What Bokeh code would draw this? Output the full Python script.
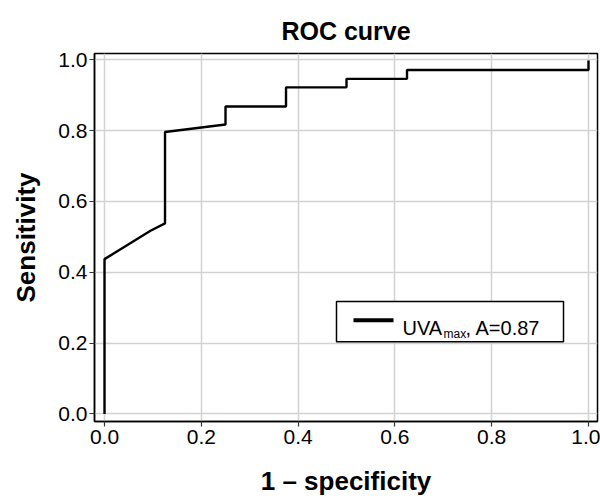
from bokeh.plotting import figure
from bokeh.models import Range1d, Label, FixedTicker, NumeralTickFormatter
from bokeh.embed import file_html
from bokeh.resources import INLINE

# ROC data (1 - specificity, sensitivity)
fpr = [0.0, 0.0, 0.095, 0.125, 0.125, 0.25, 0.25, 0.375, 0.375, 0.5, 0.5, 0.625, 0.625, 1.0, 1.0]
tpr = [0.0, 0.437, 0.517, 0.538, 0.796, 0.817, 0.868, 0.868, 0.922, 0.922, 0.946, 0.946, 0.971, 0.971, 0.998]
tick_vals = [0.0, 0.2, 0.4, 0.6, 0.8, 1.0]
title_text = "ROC curve"
x_title = "1 \u2013 specificity"
y_title = "Sensitivity"
legend_main = "UVA"
legend_sub = "max"
legend_tail = ", A=0.87"

FONT = "Liberation Sans"
X0, X1 = -0.0207, 1.0186
Y0, Y1 = -0.0214, 1.0175
FL, FR, FT, FB = 94, 597, 53, 427  # frame edges in page px


def dx(px):
    return X0 + (px - FL) * (X1 - X0) / (FR - FL)


def dy(py):
    return Y0 + (FB - py) * (Y1 - Y0) / (FB - FT)


p = figure(width=600, height=498, output_backend="svg", toolbar_location=None,
           x_range=Range1d(X0, X1), y_range=Range1d(Y0, Y1),
           min_border_left=94, min_border_right=3, min_border_top=53, min_border_bottom=71,
           title=title_text)

p.title.text_font = FONT
p.title.text_font_size = "25px"
p.title.text_font_style = "bold"
p.title.align = "center"
p.title.text_color = "black"
p.title.standoff = 18

p.outline_line_color = "black"
p.outline_line_width = 1.5
p.outline_line_alpha = 1.0

for ax in (p.xaxis[0], p.yaxis[0]):
    ax.ticker = FixedTicker(ticks=tick_vals)
    ax.formatter = NumeralTickFormatter(format="0.0")
    ax.major_label_text_font = FONT
    ax.major_label_text_font_size = "21px"
    ax.major_label_text_color = "black"
    ax.axis_label_text_font = FONT
    ax.axis_label_text_font_size = "26px"
    ax.axis_label_text_font_style = "bold"
    ax.axis_label_text_color = "black"
    ax.axis_line_color = "black"
    ax.axis_line_width = 1.5
    ax.major_tick_line_color = "#333333"
    ax.major_tick_line_width = 1.2
    ax.major_tick_out = 5
    ax.major_tick_in = 0
    ax.minor_tick_line_color = None

p.xaxis.axis_label = x_title
p.yaxis.axis_label = y_title
p.xaxis.major_label_standoff = 3
p.yaxis.major_label_standoff = 2
p.xaxis.axis_label_standoff = 19
p.yaxis.axis_label_standoff = 14

p.xgrid.ticker = FixedTicker(ticks=tick_vals)
p.ygrid.ticker = FixedTicker(ticks=tick_vals)
p.grid.grid_line_color = "#d2d2d2"
p.grid.grid_line_width = 1.5

p.line(fpr, tpr, line_color="black", line_width=2.4)

# legend box (drawn manually so the subscript can be shown)
p.quad(left=[dx(336)], right=[dx(563)], top=[dy(305)], bottom=[dy(346)],
       fill_color="white", line_color="black", line_width=1.5)
p.segment(x0=[dx(353)], x1=[dx(393)], y0=[dy(324)], y1=[dy(324)],
          line_color="black", line_width=4)
p.add_layout(Label(x=dx(402), y=dy(332), text=legend_main, text_font=FONT,
                   text_font_size="20px", text_baseline="alphabetic", text_color="black"))
p.add_layout(Label(x=dx(443), y=dy(338), text=legend_sub, text_font=FONT,
                   text_font_size="12px", text_baseline="alphabetic", text_color="black"))
p.add_layout(Label(x=dx(465), y=dy(332), text=legend_tail, text_font=FONT,
                   text_font_size="20px", text_baseline="alphabetic", text_color="black"))

open("out.html", "w").write(file_html(p, INLINE))
